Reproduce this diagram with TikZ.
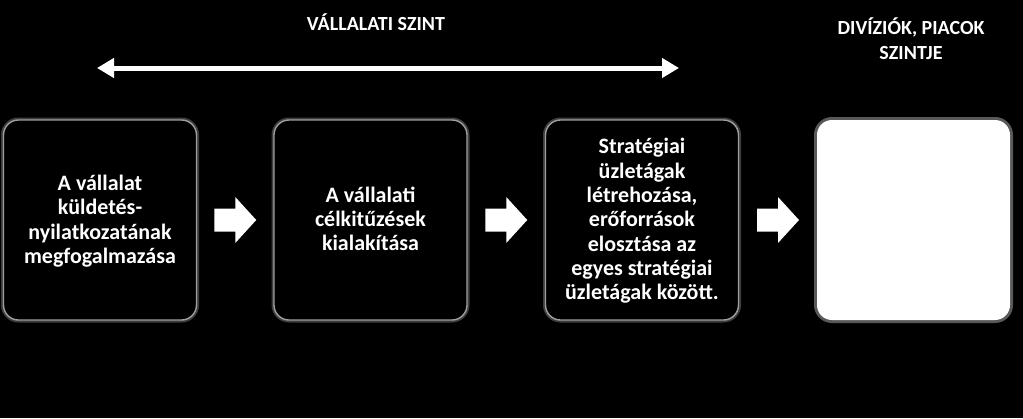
\documentclass[tikz,border=0pt]{standalone}
\usepackage{fontspec}
\setmainfont{Carlito}
\usetikzlibrary{calc,arrows.meta}
\tikzset{
  stagebox/.style={minimum width=193pt, minimum height=200pt, rounded corners=15pt, inner sep=0pt},
  darkbox/.style={stagebox, draw=gray!75, line width=1.4pt, fill=black},
  lightbox/.style={stagebox, fill=white},
  boxtext/.style={text=white, align=center, font=\fontsize{22}{24.3}\selectfont\bfseries},
  headtext/.style={text=white, align=center, font=\fontsize{20}{25}\selectfont\bfseries},
  levelarrow/.style={draw=white, line width=5pt, {Triangle[width=19pt,length=17pt]}-{Triangle[width=19pt,length=17pt]}},
  blockarrow/.style={fill=white, draw=none}
}
\newcommand{\blockarr}[1]{%
  \fill[blockarrow] ($(#1)+(-21,-11.5)$) -- ($(#1)+(0,-11.5)$) -- ($(#1)+(0,-23)$) -- ($(#1)+(21,0)$) -- ($(#1)+(0,23)$) -- ($(#1)+(0,11.5)$) -- ($(#1)+(-21,11.5)$) -- cycle;}
\begin{document}
\begin{tikzpicture}[x=1pt,y=-1pt]
\fill[black] (0,0) rectangle (1023,418);
\useasboundingbox (0,0) rectangle (1023,418);
% glow halos
\foreach \x in {100, 370.5, 642}{
  \draw[gray!60, line width=5pt, opacity=0.35, rounded corners=15pt] (\x-96.5,120) rectangle (\x+96.5,320);
}
\draw[white, line width=6pt, opacity=0.35, rounded corners=15pt] (817,120) rectangle (1010,320);
% boxes
\node[darkbox] (b1) at (100,220) {};
\node[darkbox] (b2) at (370.5,220) {};
\node[darkbox] (b3) at (642,220) {};
\node[lightbox] (b4) at (913.5,220) {};
% texts
\node[boxtext] (t1) at (100,221) {A vállalat\\küldetés-\\nyilatkozatának\\megfogalmazása};
\node[boxtext] (t2) at (370.5,219) {A vállalati\\célkitűzések\\kialakítása};
\node[boxtext] (t3) at (642,221) {Stratégiai\\üzletágak\\létrehozása,\\erőforrások\\elosztása az\\egyes stratégiai\\üzletágak között.};
% block arrows between boxes
\coordinate (m1) at ($(b1.east)!0.5!(b2.west)$);
\coordinate (m2) at ($(b2.east)!0.5!(b3.west)$);
\coordinate (m3) at ($(b3.east)!0.5!(b4.west)$);
\blockarr{m1}
\blockarr{m2}
\blockarr{m3}
% top level arrow and labels
\node[headtext] (lvl) at (376,22) {VÁLLALATI SZINT};
\node[headtext] (div) at (911,39) {DIVÍZIÓK, PIACOK\\SZINTJE};
\coordinate (la) at (97,68);
\coordinate (lb) at (679,68);
\draw[levelarrow] (la) -- (lb);
\end{tikzpicture}
\end{document}
